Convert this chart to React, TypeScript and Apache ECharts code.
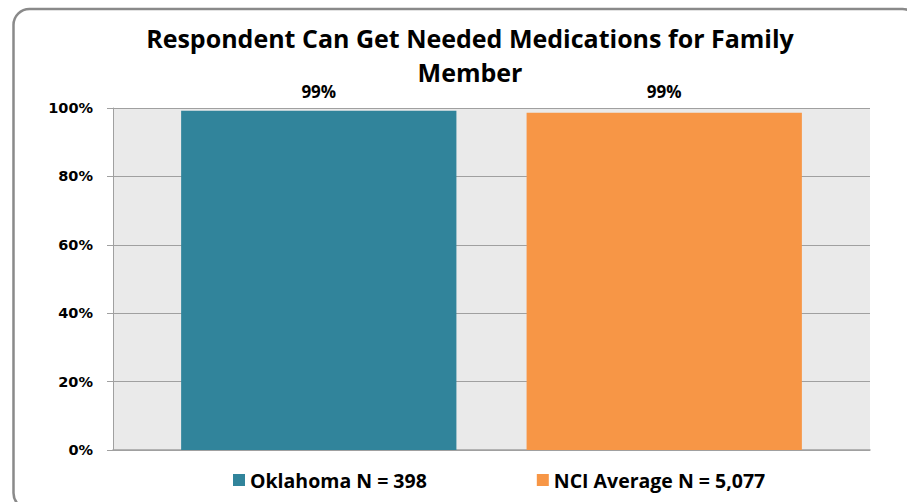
import React, { useEffect, useRef } from "react";
import * as echarts from "echarts";

const categories = ["Respondent Can Get Needed Medications for Family Member"];
const seriesNames = ["Oklahoma N = 398", "NCI Average N = 5,077"];
const oklahomaValues = [99.2];
const nciValues = [98.6];
const barLabels = ["99%", "99%"];
const titleText = "Respondent Can Get Needed Medications for Family\nMember";
const yMin = 0;
const yMax = 100;
const yInterval = 20;

const TEAL = "#31849B";
const ORANGE = "#F79646";
const GRID = "#A0A0A0";
const FONT = "'Open Sans', 'Noto Sans', sans-serif";

export default function App() {
  const ref = useRef<HTMLDivElement>(null);
  useEffect(() => {
    if (!ref.current) return;
    const chart = echarts.init(ref.current, undefined, { renderer: "svg" });
    chart.setOption({
      animation: false,
      backgroundColor: "#ffffff",
      title: {
        text: titleText,
        left: 465,
        top: 16,
        textAlign: "center",
        textStyle: {
          fontFamily: FONT,
          fontSize: 25,
          fontWeight: "bold",
          color: "#000",
          lineHeight: 34,
        },
      },
      graphic: [
        {
          type: "rect",
          shape: { x: 13.5, y: 9, width: 905, height: 500, r: 16 },
          style: { fill: "none", stroke: "#8a8a8a", lineWidth: 2.5 },
          silent: true,
          z: 100,
        },
      ],
      legend: {
        bottom: 7,
        left: 228,
        itemWidth: 12,
        itemHeight: 12,
        itemGap: 110,
        icon: "rect",
        textStyle: {
          fontFamily: FONT,
          fontSize: 19.5,
          fontWeight: "bold",
          color: "#000",
        },
        data: seriesNames,
      },
      grid: {
        left: 113,
        right: 37,
        top: 108,
        bottom: 52,
        show: true,
        backgroundColor: "#EAEAEA",
        borderWidth: 0,
      },
      xAxis: {
        type: "category",
        data: categories,
        axisLine: { show: true, lineStyle: { color: GRID, width: 1.5 } },
        axisTick: { show: false },
        axisLabel: { show: false },
      },
      yAxis: {
        type: "value",
        min: yMin,
        max: yMax,
        interval: yInterval,
        axisLine: { show: true, lineStyle: { color: GRID, width: 1 } },
        axisTick: { show: true, length: 6, lineStyle: { color: GRID } },
        splitLine: { show: true, lineStyle: { color: GRID, width: 1 } },
        axisLabel: {
          formatter: "{value}%",
          fontFamily: "'DejaVu Sans', sans-serif",
          fontSize: 14.5,
          fontWeight: "bold",
          color: "#000",
          margin: 20,
        },
      },
      series: [
        {
          name: seriesNames[0],
          type: "bar",
          data: oklahomaValues,
          itemStyle: { color: TEAL },
          barGap: "25.5%",
          barCategoryGap: "18%",
          label: {
            show: true,
            position: "top",
            distance: 11,
            formatter: () => barLabels[0],
            fontFamily: FONT,
            fontSize: 17,
            fontWeight: "bold",
            color: "#000",
          },
        },
        {
          name: seriesNames[1],
          type: "bar",
          data: nciValues,
          itemStyle: { color: ORANGE },
          barGap: "25.5%",
          barCategoryGap: "18%",
          label: {
            show: true,
            position: "top",
            distance: 13,
            formatter: () => barLabels[1],
            fontFamily: FONT,
            fontSize: 17,
            fontWeight: "bold",
            color: "#000",
          },
        },
      ],
    });
    return () => chart.dispose();
  }, []);
  return (
    <div
      ref={ref}
      style={{ position: "fixed", left: 0, top: 0, width: 907, height: 502 }}
    />
  );
}
